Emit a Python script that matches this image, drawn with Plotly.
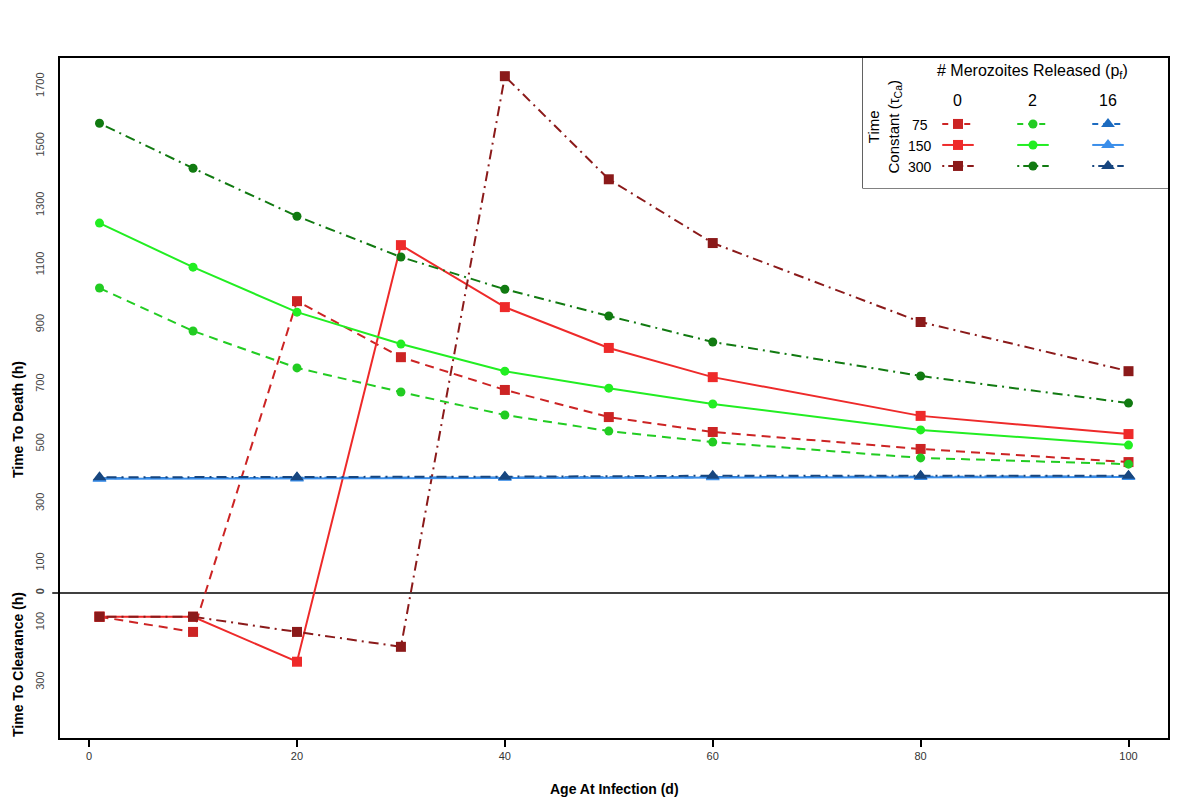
import plotly.graph_objects as go

# age at infection (d)
ages = [1, 10, 20, 30, 40, 50, 60, 80, 100]
ages_blue = [1, 20, 40, 60, 80, 100]

# time to death (h) positive, time to clearance (h) as negative values
red_75 = [-80, -131, 979, 791, 681, 590, 540, 483, 439]
red_150 = [-80, -80, -231, 1167, 959, 822, 724, 594, 533]
red_300 = [-80, -80, -131, -181, 1734, 1388, 1174, 909, 744]

green_75 = [1023, 879, 755, 674, 597, 543, 506, 453, 432]
green_150 = [1241, 1093, 942, 835, 744, 687, 634, 547, 496]
green_300 = [1576, 1425, 1264, 1127, 1019, 929, 842, 728, 637]

blue_75 = [385, 386, 388, 390, 391, 391]
blue_150 = [383, 384, 386, 388, 389, 389]
blue_300 = [388, 388, 390, 393, 393, 393]

time_constants = ["75", "150", "300"]
merozoites = ["0", "2", "16"]

y_ticks = [-300, -100, 0, 100, 300, 500, 700, 900, 1100, 1300, 1500, 1700]
x_ticks = [0, 20, 40, 60, 80, 100]

FONT = "Arial, Liberation Sans, sans-serif"
DASH = "9px,6px"
DASHDOT = "2px,5px,10px,5px"
LEG_DASH = {DASH: "6px,5px", DASHDOT: "2px,4px,9px,4px", "solid": "solid"}

series = [
    # (x, y, colour, dash, symbol, size, row, col)
    (ages, red_75, "#cc2424", DASH, "square", 10, 0, 0),
    (ages, red_150, "#ee2a2a", "solid", "square", 10, 1, 0),
    (ages, red_300, "#8b1a1a", DASHDOT, "square", 10, 2, 0),
    (ages, green_75, "#22cc22", DASH, "circle", 9, 0, 1),
    (ages, green_150, "#22ee22", "solid", "circle", 9, 1, 1),
    (ages, green_300, "#117a11", DASHDOT, "circle", 9, 2, 1),
    (ages_blue, blue_75, "#1c6bc0", DASH, "triangle-up", 12, 0, 2),
    (ages_blue, blue_150, "#3a8eea", "solid", "triangle-up", 12, 1, 2),
    (ages_blue, blue_300, "#17467f", DASHDOT, "triangle-up", 12, 2, 2),
]

fig = go.Figure()

for x, y, color, dash, symbol, size, row, col in series:
    fig.add_trace(go.Scatter(
        x=x, y=y, mode="lines+markers",
        line=dict(color=color, width=2, dash=dash),
        marker=dict(symbol=symbol, size=size, color=color),
        showlegend=False, hoverinfo="skip",
    ))
    # legend sample in the custom grid legend
    fig.add_trace(go.Scatter(
        x=[col - 0.21, col, col + 0.21], y=[row, row, row],
        mode="lines", line=dict(color=color, width=2, dash=LEG_DASH[dash]),
        xaxis="x2", yaxis="y2", showlegend=False, hoverinfo="skip",
    ))
    fig.add_trace(go.Scatter(
        x=[col], y=[row], mode="markers",
        marker=dict(symbol=symbol, size=size, color=color),
        xaxis="x2", yaxis="y2", showlegend=False, hoverinfo="skip",
    ))

ann = [
    dict(text="<b>Age At Infection (d)</b>", x=0.5, y=-0.075, xref="paper", yref="paper",
         showarrow=False, font=dict(size=14, color="black"), xanchor="center", yanchor="middle"),
    dict(text="<b>Time To Death (h)</b>", x=-0.0379, y=580, xref="paper", yref="y",
         textangle=-90, showarrow=False, font=dict(size=14, color="black"),
         xanchor="center", yanchor="middle"),
    dict(text="<b>Time To Clearance (h)</b>", x=-0.0379, y=-242, xref="paper", yref="y",
         textangle=-90, showarrow=False, font=dict(size=14, color="black"),
         xanchor="center", yanchor="middle"),
    dict(text="# Merozoites Released (p<sub>f</sub>)", x=0.99, y=-2.48, xref="x2", yref="y2",
         showarrow=False, font=dict(size=16, color="black")),
    dict(text="Time<br>Constant (τ<sub>Ca</sub>)", x=-0.98, y=0.1, xref="x2", yref="y2",
         textangle=-90, showarrow=False, font=dict(size=15, color="black"),
         xanchor="center", yanchor="middle"),
]
for i, m in enumerate(merozoites):
    ann.append(dict(text=m, x=i, y=-1.14, xref="x2", yref="y2", showarrow=False,
                    font=dict(size=16, color="black")))
for i, t in enumerate(time_constants):
    ann.append(dict(text=t, x=-0.5, y=i + 0.05, xref="x2", yref="y2", showarrow=False,
                    font=dict(size=14, color="black")))

fig.update_layout(
    width=1200, height=812,
    margin=dict(l=52, r=40, t=50, b=82),
    paper_bgcolor="white", plot_bgcolor="white",
    font=dict(family=FONT, color="#333333"),
    annotations=ann,
    xaxis=dict(
        range=[-2.8, 103.8], tickvals=x_ticks, ticks="outside", ticklen=7, tickwidth=1.5,
        tickcolor="black", showgrid=False, zeroline=False, showline=True, linecolor="black",
        linewidth=1.5, mirror=True, tickfont=dict(size=11, color="#333333"),
    ),
    yaxis=dict(
        range=[-487, 1795], tickvals=y_ticks,
        ticktext=[str(abs(v)) if v != 0 else "<b>0</b>" for v in y_ticks],
        tickangle=-90, ticks="", showgrid=False, zeroline=False, showline=True,
        linecolor="black", linewidth=1.5, mirror=True, ticklabelstandoff=10,
        tickfont=dict(size=11, color="#444444"),
    ),
    xaxis2=dict(domain=[0.7247, 1], anchor="y2", range=[-1.267, 2.8], visible=False, fixedrange=True),
    yaxis2=dict(domain=[0.8088, 1], anchor="x2", range=[3.05, -3.14], visible=False, fixedrange=True),
    shapes=[
        dict(type="line", xref="paper", yref="y", x0=-0.007, x1=1, y0=0, y1=0,
             line=dict(color="black", width=1.5), layer="below"),
        dict(type="rect", xref="paper", yref="paper", x0=0.7247, x1=1, y0=0.8088, y1=1,
             line=dict(color="black", width=1.2), fillcolor="white", layer="below"),
    ],
)

fig.write_html("out.html")
